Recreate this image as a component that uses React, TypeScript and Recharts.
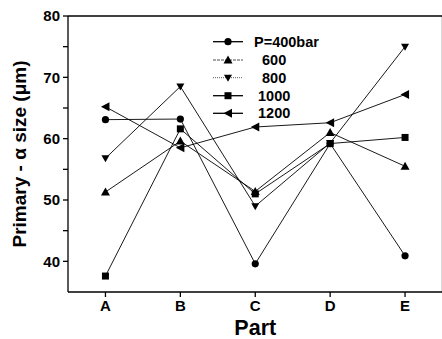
import React from 'react';
import { LineChart, Line, XAxis, YAxis, ReferenceLine } from 'recharts';

const parts = ['A', 'B', 'C', 'D', 'E'];
const p400 = [63.1, 63.2, 39.6, 59.2, 40.9];
const p600 = [51.3, 59.6, 51.4, 61.0, 55.5];
const p800 = [56.8, 68.5, 49.0, 59.3, 75.0];
const p1000 = [37.6, 61.6, 51.0, 59.2, 60.2];
const p1200 = [65.2, 58.5, 61.9, 62.6, 67.2];
const yTicks = [40, 45, 50, 55, 60, 65, 70, 75, 80];
const legendLabels = ['P=400bar', '600', '800', '1000', '1200'];

const data = parts.map((p, i) => ({
  x: i + 1,
  p400: p400[i],
  p600: p600[i],
  p800: p800[i],
  p1000: p1000[i],
  p1200: p1200[i],
}));

type Shape = 'circle' | 'up' | 'down' | 'square' | 'left';

const drawShape = (shape: Shape, cx: number, cy: number, key?: string | number) => {
  const s = 4;
  switch (shape) {
    case 'circle':
      return <circle key={key} cx={cx} cy={cy} r={3.6} fill="#000" />;
    case 'up':
      return <polygon key={key} points={`${cx},${cy - s - 0.5} ${cx - s - 0.5},${cy + s - 0.5} ${cx + s + 0.5},${cy + s - 0.5}`} fill="#000" />;
    case 'down':
      return <polygon key={key} points={`${cx - s},${cy - s + 1} ${cx + s},${cy - s + 1} ${cx},${cy + s}`} fill="#000" />;
    case 'square':
      return <rect key={key} x={cx - 3.5} y={cy - 3.5} width={7} height={7} fill="#000" />;
    case 'left':
      return <polygon key={key} points={`${cx - s - 0.5},${cy} ${cx + s},${cy - s - 0.5} ${cx + s},${cy + s + 0.5}`} fill="#000" />;
  }
};

const makeDot = (shape: Shape) => (props: any) => {
  const { cx, cy, index } = props;
  if (cx == null || cy == null) return <g key={index} />;
  return drawShape(shape, cx, cy, index);
};

const series: { key: string; shape: Shape; stroke: string; dash?: string }[] = [
  { key: 'p400', shape: 'circle', stroke: '#000' },
  { key: 'p600', shape: 'up', stroke: '#222', dash: '3 1' },
  { key: 'p800', shape: 'down', stroke: '#333', dash: '1 1' },
  { key: 'p1000', shape: 'square', stroke: '#000' },
  { key: 'p1200', shape: 'left', stroke: '#000' },
];

const legendRowsY = [9.7, 28, 45.7, 63.7, 81.3];
const legendTextX = [41, 49, 49, 45, 45];

const LegendBox = () => (
  <svg width={130} height={95} style={{ position: 'absolute', left: 213, top: 32, overflow: 'visible' }}>
    {series.map((s, i) => (
      <g key={s.key}>
        <line
          x1={0}
          x2={30}
          y1={legendRowsY[i]}
          y2={legendRowsY[i]}
          stroke={s.stroke}
          strokeWidth={i === 1 || i === 2 ? 0.8 : 1.3}
          strokeDasharray={s.dash}
        />
        {drawShape(s.shape, 15, legendRowsY[i])}
        <text
          x={legendTextX[i]}
          y={legendRowsY[i] + 5}
          fontFamily="'Liberation Sans', Arial, sans-serif"
          fontWeight="bold"
          fontSize={14.5}
          fill="#000"
        >
          {legendLabels[i]}
        </text>
      </g>
    ))}
  </svg>
);

const tickStyle = {
  fontFamily: "'Liberation Sans', Arial, sans-serif",
  fontWeight: 'bold' as const,
  fontSize: 15,
  fill: '#000',
};

export default function App() {
  return (
    <div style={{ position: 'absolute', left: 0, top: 0, width: 442, height: 339, overflow: 'hidden', background: '#fff' }}>
      <LineChart width={444} height={339} data={data} margin={{ top: 16, right: 1.5, left: 0, bottom: 0 }}>
        <XAxis
          type="number"
          dataKey="x"
          domain={[0.5, 5.5]}
          ticks={[1, 2, 3, 4, 5]}
          tickFormatter={(v: number) => parts[v - 1]}
          allowDataOverflow
          height={47}
          tickSize={5}
          tickMargin={3}
          stroke="#000"
          strokeWidth={1.3}
          tick={tickStyle}
          label={{
            value: 'Part',
            position: 'insideBottom',
            offset: 4.5,
            style: { fontFamily: "'Liberation Sans', Arial, sans-serif", fontWeight: 'bold', fontSize: 21.5, fill: '#000' },
          }}
        />
        <YAxis
          type="number"
          domain={[35, 80]}
          ticks={yTicks}
          tickFormatter={(v: number) => (v % 10 === 0 ? String(v) : '')}
          allowDataOverflow
          width={68}
          tickSize={5}
          tickMargin={3}
          stroke="#000"
          strokeWidth={1.3}
          tick={tickStyle}
          label={{
            value: 'Primary - α size (μm)',
            angle: -90,
            position: 'insideLeft',
            offset: 19,
            style: { textAnchor: 'middle', fontFamily: "'Liberation Sans', Arial, sans-serif", fontWeight: 'bold', fontSize: 19, fill: '#000' },
          }}
        />
        <ReferenceLine y={80} stroke="#000" strokeWidth={1.3} ifOverflow="visible" />
        <ReferenceLine x={5.5} stroke="#000" strokeWidth={1.3} ifOverflow="visible" />
        {series.map((s) => (
          <Line
            key={s.key}
            dataKey={s.key}
            type="linear"
            stroke="#000"
            strokeWidth={0.9}
            dot={makeDot(s.shape)}
            activeDot={false}
            isAnimationActive={false}
            legendType="none"
          />
        ))}
      </LineChart>
      <LegendBox />
    </div>
  );
}
